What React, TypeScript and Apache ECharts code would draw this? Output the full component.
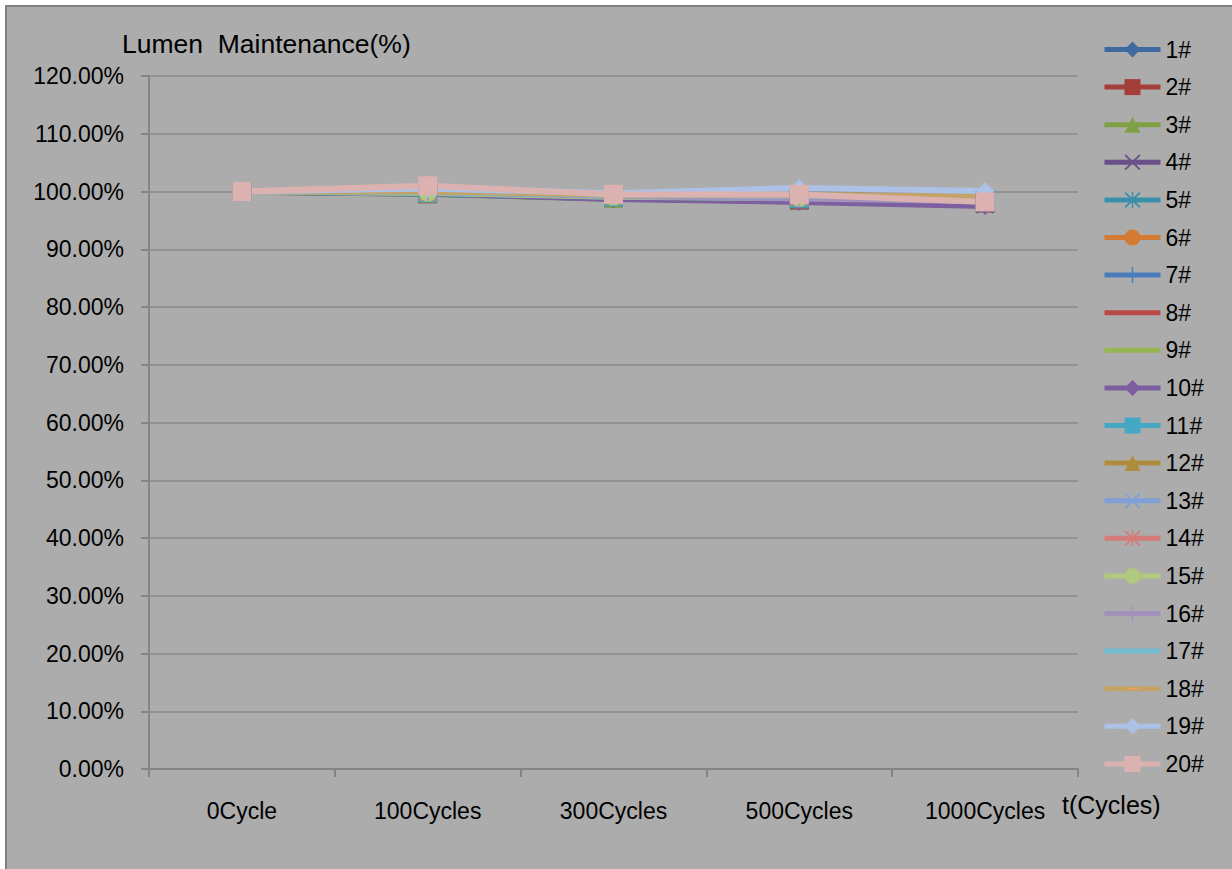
import React, { useEffect, useRef } from "react";
import * as echarts from "echarts";

const categories = ["0Cycle", "100Cycles", "300Cycles", "500Cycles", "1000Cycles"];
const yTicks = [0, 0.1, 0.2, 0.3, 0.4, 0.5, 0.6, 0.7, 0.8, 0.9, 1.0, 1.1, 1.2];

const v1 = [1.0, 0.997, 0.988, 0.983, 0.978];
const v2 = [1.0, 0.996, 0.99, 0.985, 0.98];
const v3 = [1.0, 0.996, 0.987, 0.986, 0.981];
const v4 = [1.0, 0.997, 0.989, 0.984, 0.977];
const v5 = [1.0, 0.996, 0.988, 0.985, 0.979];
const v6 = [1.0, 0.998, 0.99, 0.987, 0.982];
const v7 = [1.0, 0.997, 0.989, 0.986, 0.98];
const v8 = [1.0, 0.998, 0.991, 0.988, 0.983];
const v9 = [1.0, 0.997, 0.99, 0.987, 0.982];
const v10 = [1.0, 0.997, 0.987, 0.982, 0.975];
const v11 = [1.0, 0.998, 0.991, 0.989, 0.985];
const v12 = [1.0, 0.999, 0.993, 0.992, 0.988];
const v13 = [1.0, 0.998, 0.992, 0.99, 0.986];
const v14 = [1.0, 0.999, 0.992, 0.99, 0.984];
const v15 = [1.0, 0.998, 0.991, 0.989, 0.985];
const v16 = [1.0, 0.999, 0.992, 0.988, 0.983];
const v17 = [1.0, 0.999, 0.994, 0.993, 0.99];
const v18 = [1.0, 1.0, 0.995, 0.994, 0.991];
const v19 = [1.0, 1.005, 0.997, 1.006, 1.001];
const v20 = [1.0, 1.01, 0.995, 0.995, 0.982];

const seriesValues = [v1, v2, v3, v4, v5, v6, v7, v8, v9, v10, v11, v12, v13, v14, v15, v16, v17, v18, v19, v20];
const seriesNames = seriesValues.map((_, i) => `${i + 1}#`);

const lineColors = [
  "#3f6aa0", "#a33e3b", "#80a046", "#6a5089", "#3a90a8", "#d37a33",
  "#4a7cbb", "#bb4a47", "#96b653", "#7b5f9f", "#44a8c4", "#b08d3c",
  "#7f9fd6", "#d57b79", "#b0c97f", "#a191bb", "#74bccf", "#c4a366",
  "#adc1e6", "#dcb2b1",
];

const X_PATH = "path://M0,0.8L0.8,0L5,4.2L9.2,0L10,0.8L5.8,5L10,9.2L9.2,10L5,5.8L0.8,10L0,9.2L4.2,5Z";
const STAR_PATH = "path://M0,0.8L0.8,0L5,4.2L9.2,0L10,0.8L5.8,5L10,9.2L9.2,10L5,5.8L0.8,10L0,9.2L4.2,5ZM4.55,0H5.45V10H4.55Z";
const PLUS_PATH = "path://M4.55,0H5.45V4.55H10V5.45H5.45V10H4.55V5.45H0V4.55H4.55Z";
const DASH_PATH = "path://M0,0L0,0M1.5,4.6H8.5V5.4H1.5ZM10,10L10,10";

const symbols = [
  "diamond", "rect", "triangle", X_PATH, STAR_PATH, "circle",
  PLUS_PATH, "none", "none", "diamond", "rect", "triangle",
  X_PATH, STAR_PATH, "circle", PLUS_PATH, "none", DASH_PATH,
  "diamond", "rect",
];

const markerColors = lineColors.map((c, i) => (i === 17 ? "#f0a060" : c));

const FONT = "Liberation Sans";

export default function App() {
  const ref = useRef<HTMLDivElement>(null);

  useEffect(() => {
    if (!ref.current) return;
    const chart = echarts.init(ref.current, null, { renderer: "svg" });
    const series = seriesValues.map((vals, i) => {
      const none = symbols[i] === "none";
      return {
        name: seriesNames[i],
        type: "line",
        data: vals,
        symbol: none ? "circle" : symbols[i],
        symbolSize: symbols[i] === "rect" ? 19 : 18,
        showSymbol: !none,
        lineStyle: { color: lineColors[i], width: 6 },
        itemStyle: { color: none ? "rgba(0,0,0,0)" : markerColors[i] },
        emphasis: { disabled: true },
      };
    });

    chart.setOption({
      animation: false,
      backgroundColor: "#ffffff",
      textStyle: { fontFamily: FONT },
      title: {
        text: "Lumen  Maintenance(%)",
        left: 122,
        top: 30,
        padding: 0,
        textStyle: { fontFamily: FONT, fontSize: 26.5, fontWeight: "normal", color: "#000" },
      },
      graphic: [
        {
          type: "rect",
          z: -100,
          silent: true,
          shape: { x: 6, y: 6, width: 1240, height: 880 },
          style: { fill: "#acacac", stroke: "#808080", lineWidth: 2 },
        },
        {
          type: "text",
          left: 1062,
          top: 792,
          style: { text: "t(Cycles)", fontFamily: FONT, fontSize: 25, fill: "#000" },
        },
      ],
      legend: {
        orient: "vertical",
        left: 1102,
        top: 38,
        padding: 0,
        itemWidth: 56,
        itemHeight: 20,
        itemGap: 14.6,
        itemTextGap: 1,
        selectedMode: false,
        lineStyle: { width: 5 },
        textStyle: { fontFamily: FONT, fontSize: 23, color: "#000" },
        data: seriesNames,
      },
      grid: { left: 149, top: 76, right: 154, bottom: 100, containLabel: false },
      xAxis: {
        type: "category",
        data: categories,
        boundaryGap: true,
        axisLine: { lineStyle: { color: "#858585", width: 2 } },
        axisTick: { show: true, length: 8, lineStyle: { color: "#858585", width: 2 } },
        axisLabel: { fontFamily: FONT, fontSize: 23, color: "#000", margin: 30 },
        splitLine: { show: false },
      },
      yAxis: {
        type: "value",
        min: yTicks[0],
        max: yTicks[yTicks.length - 1],
        interval: 0.1,
        axisLine: { show: true, lineStyle: { color: "#858585", width: 2 } },
        axisTick: { show: true, length: 8, lineStyle: { color: "#858585", width: 2 } },
        axisLabel: {
          fontFamily: FONT,
          fontSize: 23,
          color: "#000",
          margin: 25,
          formatter: (v: number) => (v * 100).toFixed(2) + "%",
        },
        splitLine: { show: true, lineStyle: { color: "#8a8a8a", width: 1.5 } },
      },
      series,
    });
    return () => chart.dispose();
  }, []);

  return (
    <div
      ref={ref}
      style={{ position: "fixed", left: 0, top: 0, width: 1232, height: 869 }}
    />
  );
}
